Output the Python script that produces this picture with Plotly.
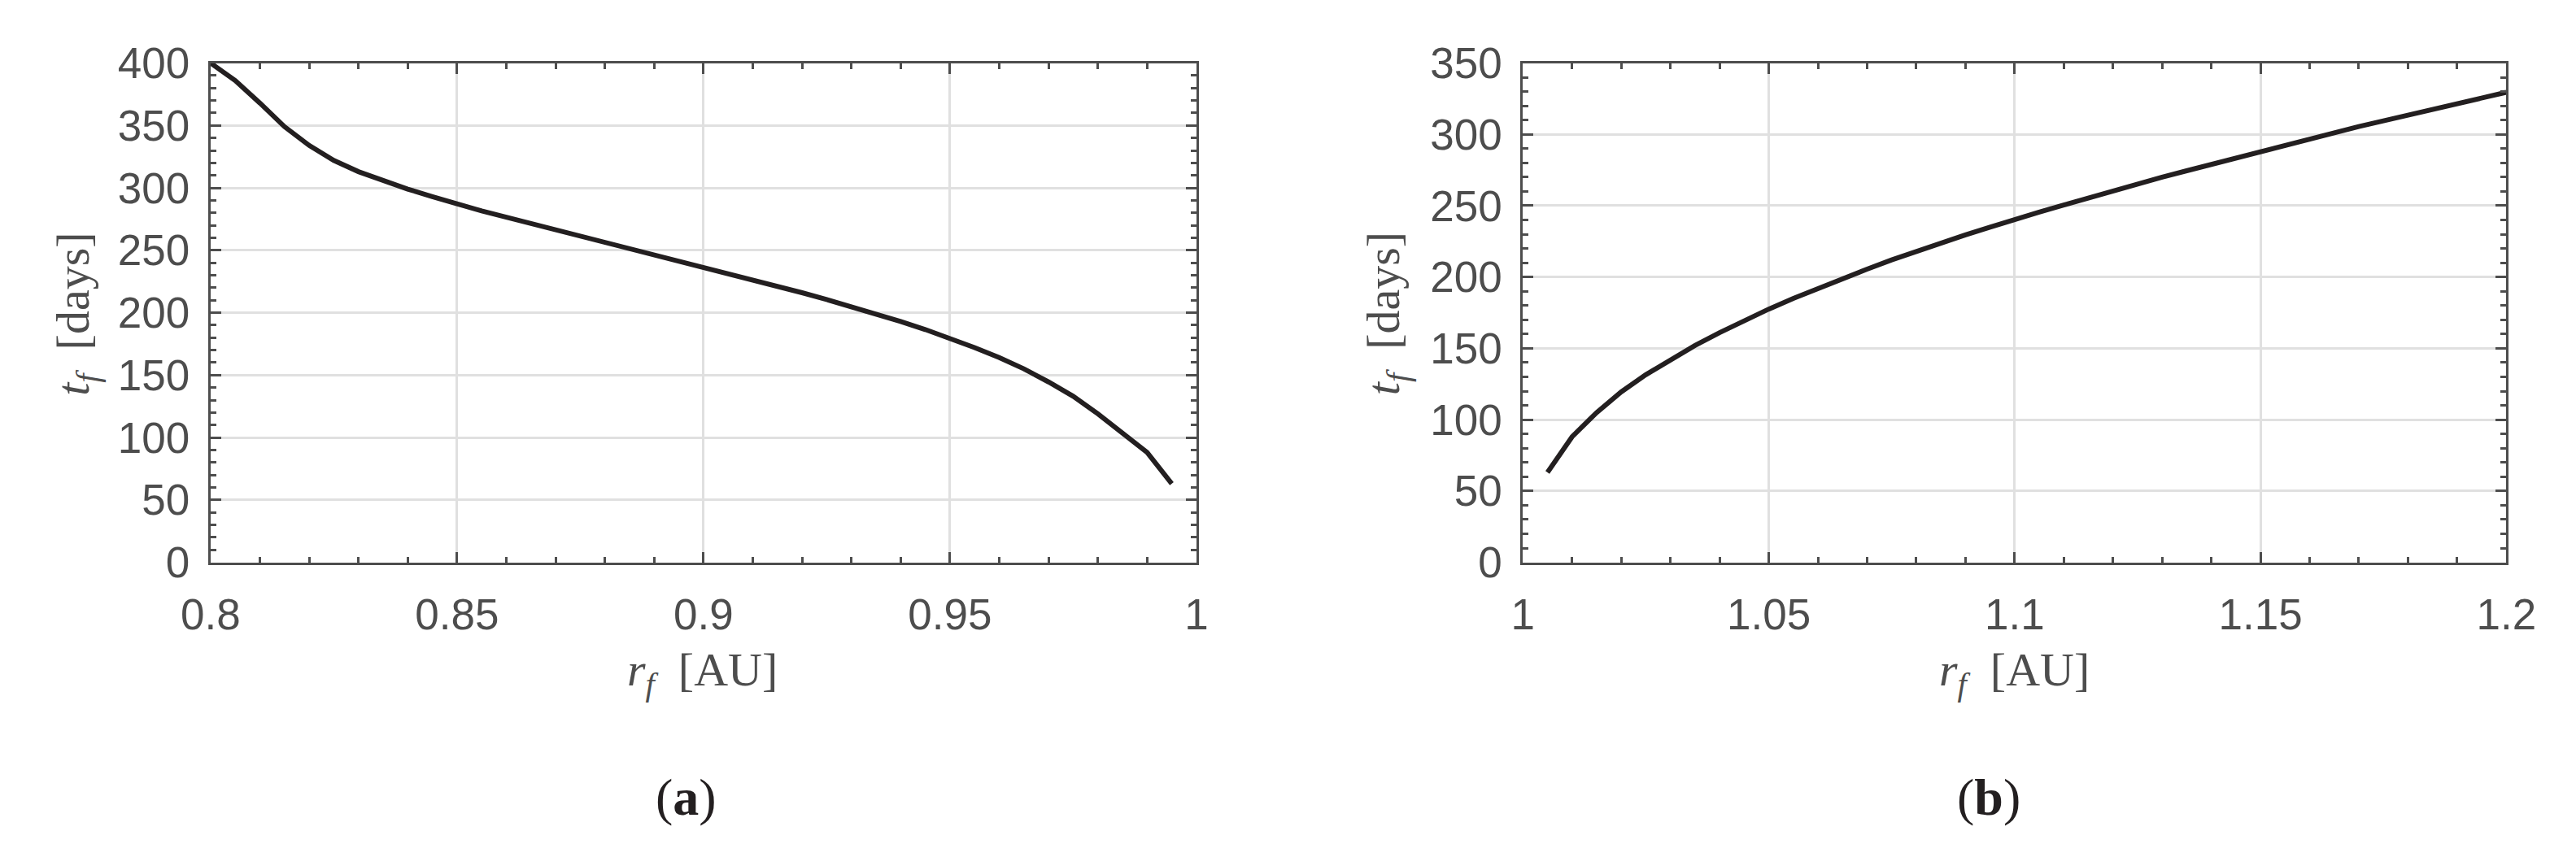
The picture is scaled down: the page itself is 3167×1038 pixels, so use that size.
import plotly.graph_objects as go

# ---- data ----
r_a = [0.800, 0.805, 0.810, 0.815, 0.820, 0.825, 0.830, 0.835, 0.840, 0.845,
       0.850, 0.855, 0.860, 0.865, 0.870, 0.875, 0.880, 0.885, 0.890, 0.895,
       0.900, 0.905, 0.910, 0.915, 0.920, 0.925, 0.930, 0.935, 0.940, 0.945,
       0.950, 0.955, 0.960, 0.965, 0.970, 0.975, 0.980, 0.985, 0.990, 0.995]
t_a = [400, 386, 368, 349, 334, 322, 313, 305.5, 299, 293,
       287, 281.5, 276.5, 271.5, 266.5, 261.5, 256.5, 251.5, 246.5, 241.5,
       237, 232, 226.5, 221, 216, 210.5, 205, 199, 193, 186.5,
       179.5, 172, 164, 155, 144.5, 133, 119, 104, 88, 63]

r_b = [1.005, 1.010, 1.015, 1.020, 1.025, 1.030, 1.035, 1.040, 1.045, 1.050,
       1.055, 1.060, 1.065, 1.070, 1.075, 1.080, 1.085, 1.090, 1.095, 1.100,
       1.105, 1.110, 1.115, 1.120, 1.125, 1.130, 1.135, 1.140, 1.145, 1.150,
       1.155, 1.160, 1.165, 1.170, 1.175, 1.180, 1.185, 1.190, 1.195, 1.200]
t_b = [63, 88, 105, 119.5, 131.5, 142, 152, 161, 169.5, 177.5,
       185, 192, 199, 205.5, 212, 218, 224, 229.5, 235, 240.5,
       245.5, 250.5, 255.5, 260.5, 265, 270, 274.5, 279, 283.5, 288,
       292.5, 297, 301, 305.5, 309.5, 313.5, 317.5, 321.5, 325.5, 329.5]

xticks_a = [0.8, 0.85, 0.9, 0.95, 1.0]
xlabels_a = ["0.8", "0.85", "0.9", "0.95", "1"]
xticks_b = [1.0, 1.05, 1.1, 1.15, 1.2]
xlabels_b = ["1", "1.05", "1.1", "1.15", "1.2"]
yticks_a = [0, 50, 100, 150, 200, 250, 300, 350, 400]
yticks_b = [0, 50, 100, 150, 200, 250, 300, 350]

x_title = "<i>r</i><sub><i>f</i></sub>  [AU]"
y_title = "<i>t</i><sub><i>f</i></sub>  [days]"
panel_labels = ["(<b>a</b>)", "(<b>b</b>)"]

# ---- layout geometry ----
W, H = 3167, 1038
AX = "#4d4d4d"
CURVE = "#231f20"

def px_x(p):
    return p / W

def px_y(p):
    return 1 - p / H

fig = go.Figure()
fig.add_trace(go.Scatter(x=r_a, y=t_a, mode="lines",
                         line=dict(color=CURVE, width=6), xaxis="x", yaxis="y",
                         showlegend=False))
fig.add_trace(go.Scatter(x=r_b, y=t_b, mode="lines",
                         line=dict(color=CURVE, width=6), xaxis="x2", yaxis="y2",
                         showlegend=False))

tickfont = dict(family="Liberation Sans, Arial, sans-serif", size=53, color=AX)

def xaxis(domain, rng, tv, tt, anchor):
    return dict(domain=domain, range=rng, anchor=anchor,
                tickmode="array", tickvals=tv, ticktext=tt,
                ticks="inside", ticklen=13, tickwidth=3, tickcolor=AX,
                showline=True, linecolor=AX, linewidth=3, mirror="ticks",
                showgrid=True, gridcolor="#e0e0e0", gridwidth=3,
                zeroline=False, tickfont=tickfont, ticklabelstandoff=16,
                minor=dict(ticks="inside", ticklen=7, tickwidth=3, tickcolor=AX,
                           dtick=0.01, showgrid=False))

def yaxis(domain, rng, tv, anchor):
    return dict(domain=domain, range=rng, anchor=anchor,
                tickmode="array", tickvals=tv, ticktext=[str(v) for v in tv],
                ticks="inside", ticklen=13, tickwidth=3, tickcolor=AX,
                showline=True, linecolor=AX, linewidth=3, mirror="ticks",
                showgrid=True, gridcolor="#e0e0e0", gridwidth=3,
                zeroline=False, tickfont=tickfont, ticklabelstandoff=12,
                minor=dict(ticks="inside", ticklen=7, tickwidth=3, tickcolor=AX,
                           dtick=10, showgrid=False))

ydom = [px_y(694), px_y(43)]
dom_a = [px_x(219), px_x(1460)]
dom_b = [px_x(1871), px_x(3109)]

fig.update_layout(
    width=W, height=H,
    margin=dict(l=0, r=0, t=0, b=0),
    paper_bgcolor="white", plot_bgcolor="white",
    xaxis=xaxis(dom_a, [0.8, 1.0], xticks_a, xlabels_a, "y"),
    yaxis=yaxis(ydom, [0, 400], yticks_a, "x"),
    xaxis2=xaxis(dom_b, [1.0, 1.2], xticks_b, xlabels_b, "y2"),
    yaxis2=yaxis(ydom, [0, 350], yticks_b, "x2"),
)

serif = "Liberation Serif, Times New Roman, serif"
annotations = []
for cx, ycx, lab, lx in [(838, 50, panel_labels[0], 818), (2490, 1700, panel_labels[1], 2457)]:
    annotations.append(dict(text=x_title, x=px_x(cx), y=px_y(838), xref="paper", yref="paper",
                            showarrow=False, xanchor="center", yanchor="middle",
                            font=dict(family=serif, size=58, color=AX)))
    annotations.append(dict(text=y_title, x=px_x(ycx), y=px_y(370), xref="paper", yref="paper",
                            showarrow=False, xanchor="center", yanchor="middle", textangle=-90,
                            font=dict(family=serif, size=58, color=AX)))
    annotations.append(dict(text=lab, x=px_x(lx), y=px_y(1000), xref="paper", yref="paper",
                            showarrow=False, xanchor="center", yanchor="middle",
                            font=dict(family=serif, size=64, color=CURVE)))
fig.update_layout(annotations=annotations)

fig.write_html("out.html")
